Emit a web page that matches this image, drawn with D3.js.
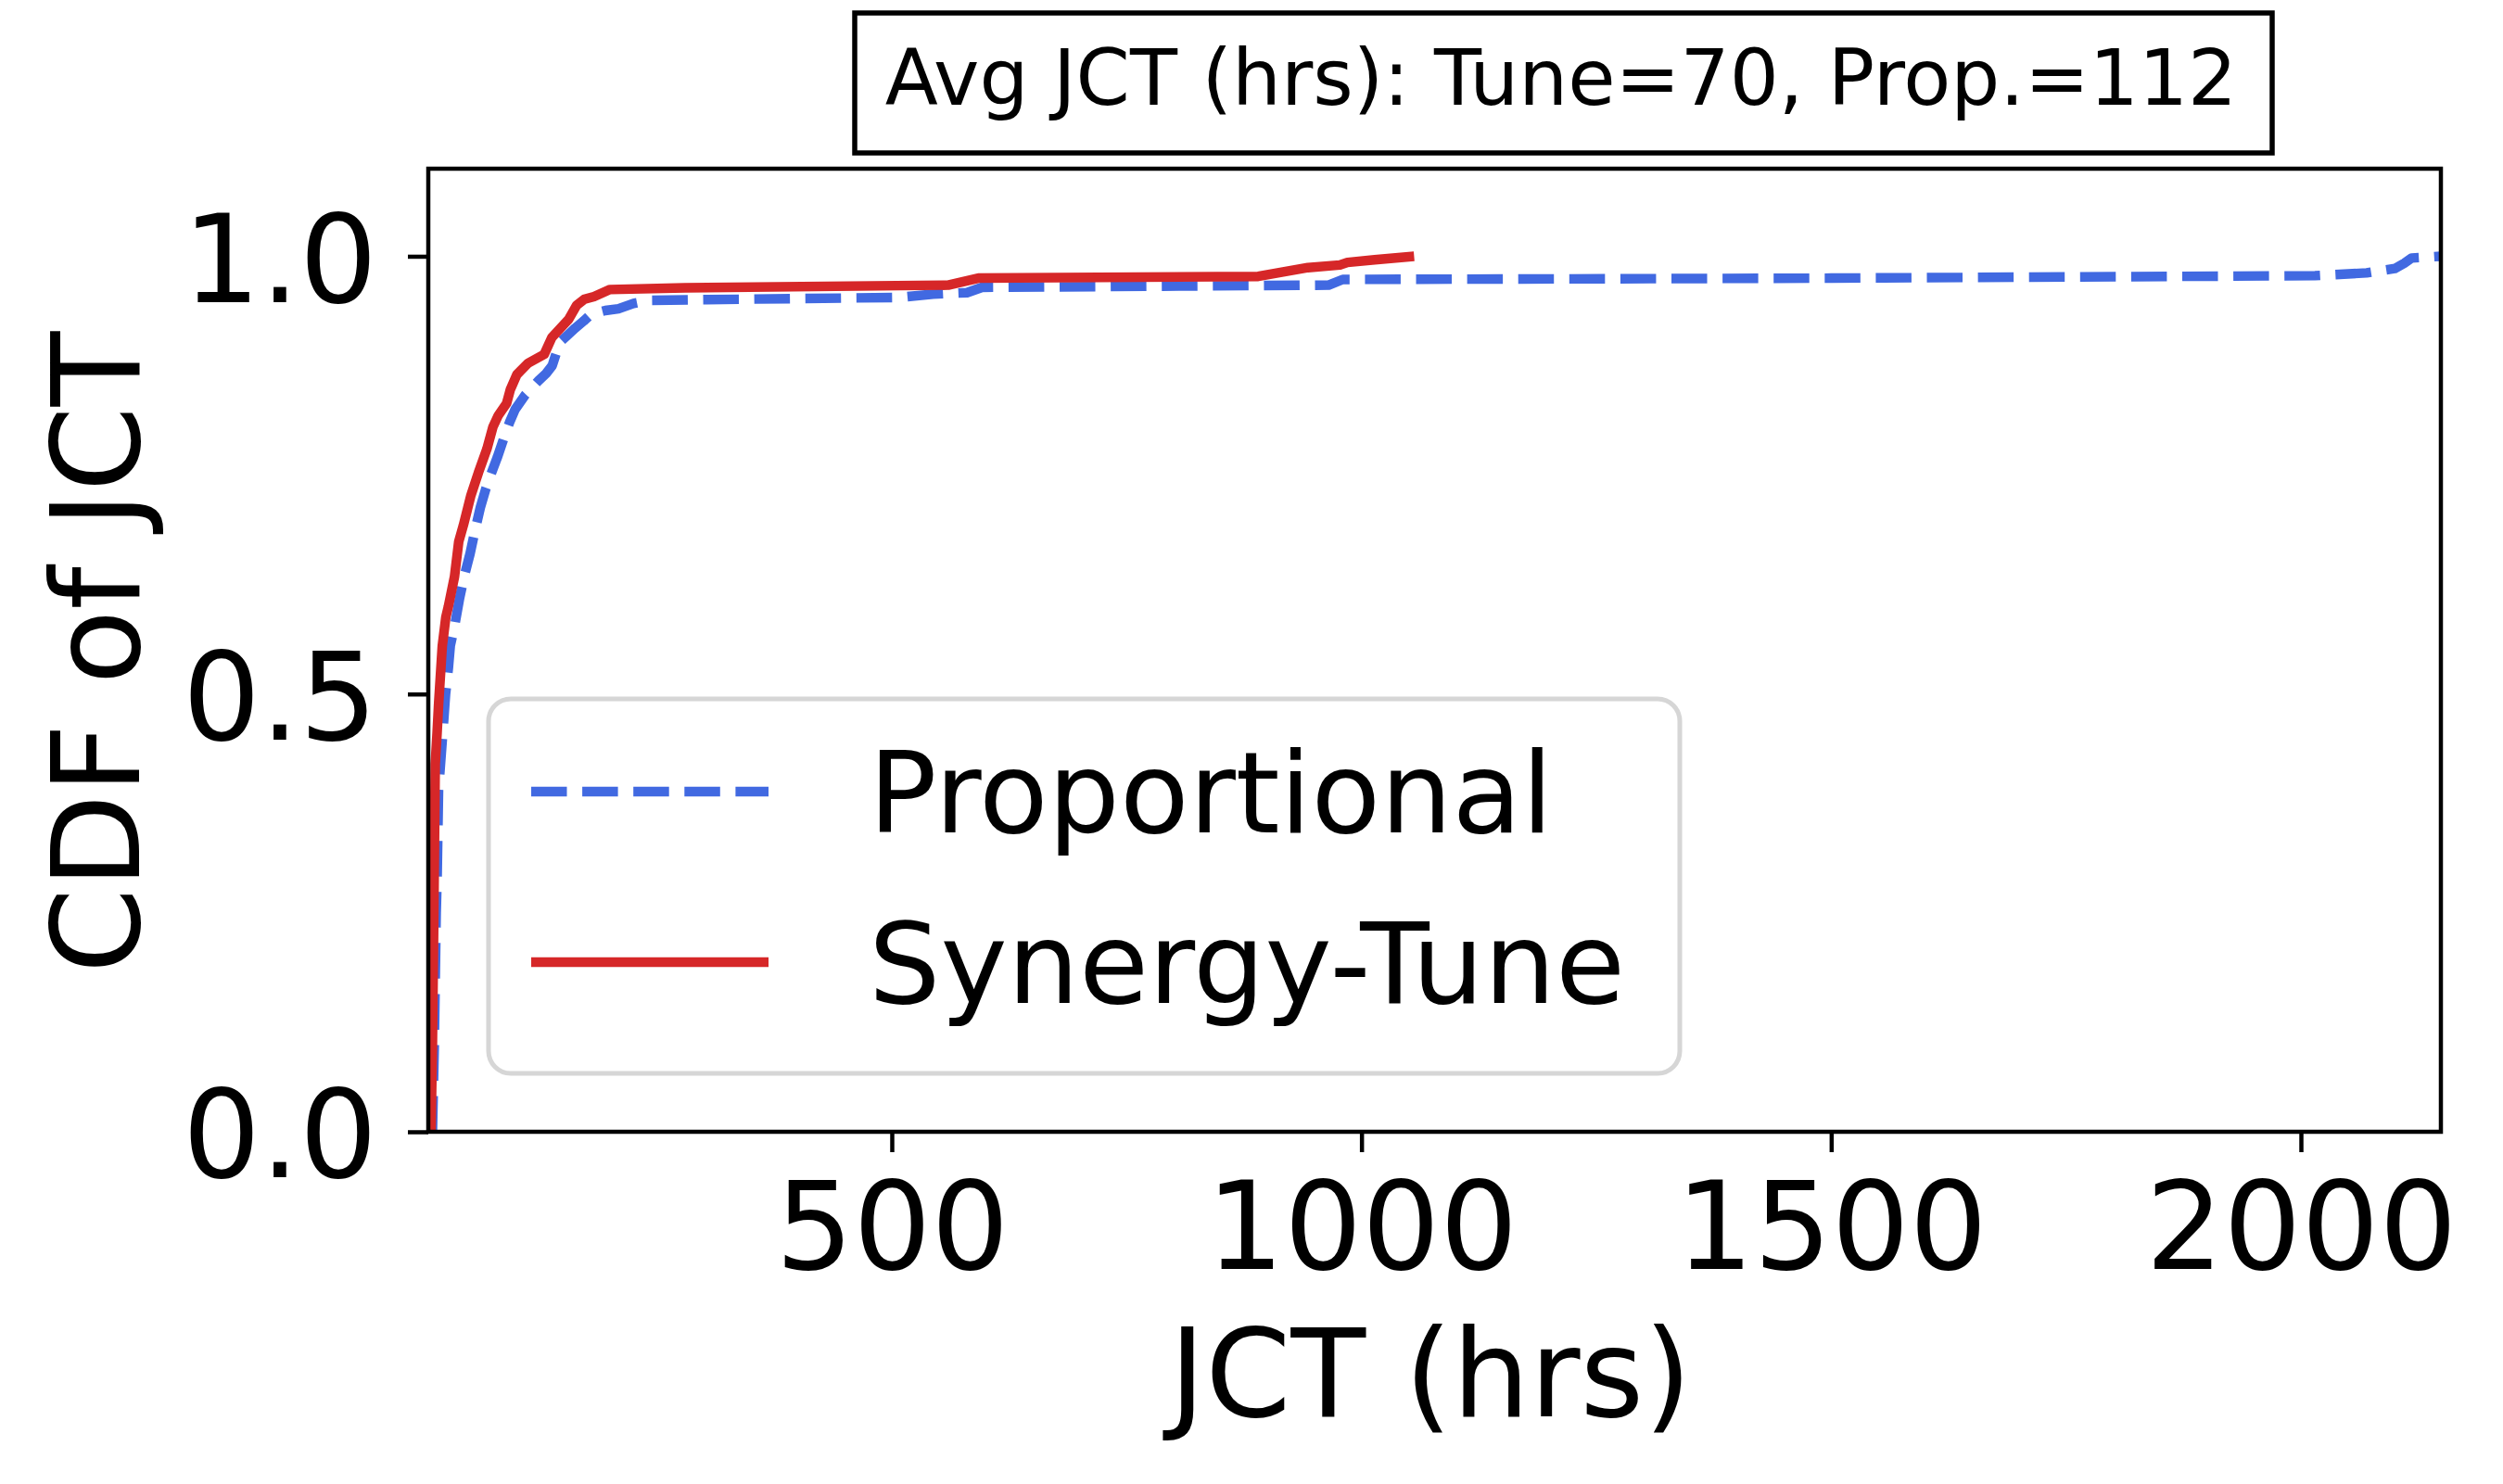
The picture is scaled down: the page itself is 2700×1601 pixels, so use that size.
<!DOCTYPE html>
<html>
<head>
<meta charset="utf-8">
<script src="https://cdn.jsdelivr.net/npm/d3@7"></script>
<style>
  body { margin: 0; background: #fff; }
</style>
</head>
<body>
<div id="chart"></div>
<script>
// Proportional CDF (blue, dashed)
const propJct = [11, 13, 15, 16, 17.5, 22, 25, 28, 30, 35, 40, 45, 51, 57, 62, 68, 74, 80, 87, 93, 99,
  110, 124, 132, 138.5, 143, 146, 155, 163, 172, 180, 195, 209, 225, 242, 508, 544, 580, 596, 965,
  980, 1500, 2015, 2070, 2100, 2110, 2118, 2149];
const propCdf = [0, 0.1, 0.25, 0.29, 0.39, 0.455, 0.5, 0.53, 0.555, 0.58, 0.61, 0.635, 0.66, 0.69, 0.713,
  0.735, 0.753, 0.77, 0.792, 0.81, 0.825, 0.842, 0.858, 0.866, 0.875, 0.89, 0.901, 0.91, 0.918, 0.926,
  0.934, 0.938, 0.94, 0.946, 0.9497, 0.953, 0.9567, 0.9584, 0.9645, 0.967, 0.9735, 0.975, 0.9778,
  0.981, 0.986, 0.992, 0.998, 1.0];

// Synergy-Tune CDF (red, solid)
const tuneJct = [9.5, 11, 12.5, 14, 16, 17.6, 21.5, 25.3, 28, 34.5, 39, 44, 52, 60, 69, 75.4, 81, 90,
  94, 101, 113, 130, 138, 156, 164.5, 173, 183, 200, 280, 560, 592, 890, 943, 977, 985, 1014, 1056];
const tuneCdf = [0, 0.1, 0.25, 0.42, 0.456, 0.489, 0.555, 0.588, 0.6, 0.634, 0.674, 0.693, 0.727, 0.753,
  0.78, 0.805, 0.818, 0.832, 0.848, 0.865, 0.878, 0.888, 0.907, 0.928, 0.944, 0.951, 0.954, 0.962,
  0.964, 0.967, 0.975, 0.977, 0.987, 0.990, 0.993, 0.996, 1.0];

const xLimits = [6.6, 2149];
const yLimits = [0, 1.1];
const xTicks = [500, 1000, 1500, 2000];
const yTicks = [0, 0.5, 1.0];
const seriesNames = ["Proportional", "Synergy-Tune"];
const seriesColors = ["#4169e1", "#d62728"];
const annotation = "Avg JCT (hrs): Tune=70, Prop.=112";

const FONT = "'DejaVu Sans', sans-serif";
const width = 2700, height = 1601;
const margin = { top: 182, right: 67, bottom: 380, left: 462 };

const svg = d3.select("#chart")
  .append("svg")
  .attr("width", width)
  .attr("height", height)
  .style("background", "#fff");

const x = d3.scaleLinear().domain(xLimits).range([margin.left, width - margin.right]);
const y = d3.scaleLinear().domain(yLimits).range([height - margin.bottom, margin.top]);

svg.append("defs").append("clipPath").attr("id", "plot-clip")
  .append("rect")
  .attr("x", x.range()[0])
  .attr("y", y.range()[1])
  .attr("width", x.range()[1] - x.range()[0])
  .attr("height", y.range()[0] - y.range()[1]);

// axes
svg.append("g")
  .attr("transform", `translate(0,${y(0)})`)
  .call(d3.axisBottom(x).tickValues(xTicks).tickSize(22).tickPadding(32).tickFormat(d3.format("d")))
  .call(g => g.select(".domain").remove())
  .call(g => g.selectAll("line").attr("stroke-width", 4.5))
  .attr("font-size", 132)
  .attr("font-family", FONT);

svg.append("g")
  .attr("transform", `translate(${x.range()[0]},0)`)
  .call(d3.axisLeft(y).tickValues(yTicks).tickSize(22).tickPadding(33).tickFormat(d3.format(".1f")))
  .call(g => g.select(".domain").remove())
  .call(g => g.selectAll("line").attr("stroke-width", 4.5))
  .call(g => g.selectAll("text").attr("dy", "0.37em"))
  .attr("font-size", 132)
  .attr("font-family", FONT);

// lines
const line = d3.line().x(d => x(d[0])).y(d => y(d[1]));
const series = [
  { name: seriesNames[0], pts: d3.zip(propJct, propCdf), color: seriesColors[0], dash: "38.5,16.6" },
  { name: seriesNames[1], pts: d3.zip(tuneJct, tuneCdf), color: seriesColors[1], dash: null }
];

svg.append("g")
  .attr("clip-path", "url(#plot-clip)")
  .selectAll("path")
  .data(series)
  .enter()
  .append("path")
  .attr("d", d => line(d.pts))
  .attr("fill", "none")
  .attr("stroke", d => d.color)
  .attr("stroke-width", 10.4)
  .attr("stroke-linejoin", "round")
  .attr("stroke-dasharray", d => d.dash);

// spines
svg.append("rect")
  .attr("x", x.range()[0])
  .attr("y", y.range()[1])
  .attr("width", x.range()[1] - x.range()[0])
  .attr("height", y.range()[0] - y.range()[1])
  .attr("fill", "none")
  .attr("stroke", "#000")
  .attr("stroke-width", 4.5);

// legend
const legend = svg.append("g");
legend.append("rect")
  .attr("x", 527).attr("y", 754)
  .attr("width", 1285).attr("height", 404)
  .attr("rx", 24).attr("ry", 24)
  .attr("fill", "#fff")
  .attr("stroke", "#d6d6d6")
  .attr("stroke-width", 5);

const legendRows = [854, 1038];
series.forEach((s, i) => {
  legend.append("line")
    .attr("x1", 573).attr("x2", 829)
    .attr("y1", legendRows[i]).attr("y2", legendRows[i])
    .attr("stroke", s.color)
    .attr("stroke-width", 10.4)
    .attr("stroke-dasharray", s.dash);
  legend.append("text")
    .attr("x", 937)
    .attr("y", legendRows[i] + 44)
    .attr("font-family", FONT)
    .attr("font-size", 122)
    .text(s.name);
});

// annotation box above the axes
svg.append("rect")
  .attr("x", 922).attr("y", 14)
  .attr("width", 1529).attr("height", 151)
  .attr("fill", "#fff")
  .attr("stroke", "#000")
  .attr("stroke-width", 5.5);

svg.append("text")
  .attr("x", 1684).attr("y", 113)
  .attr("text-anchor", "middle")
  .attr("font-family", FONT)
  .attr("font-size", 83.5)
  .text(annotation);

// axis labels
svg.append("text")
  .attr("x", 1543).attr("y", 1528)
  .attr("text-anchor", "middle")
  .attr("font-family", FONT)
  .attr("font-size", 132)
  .text("JCT (hrs)");

svg.append("text")
  .attr("transform", "translate(150,704) rotate(-90)")
  .attr("text-anchor", "middle")
  .attr("font-family", FONT)
  .attr("font-size", 132)
  .text("CDF of JCT");
</script>
</body>
</html>
